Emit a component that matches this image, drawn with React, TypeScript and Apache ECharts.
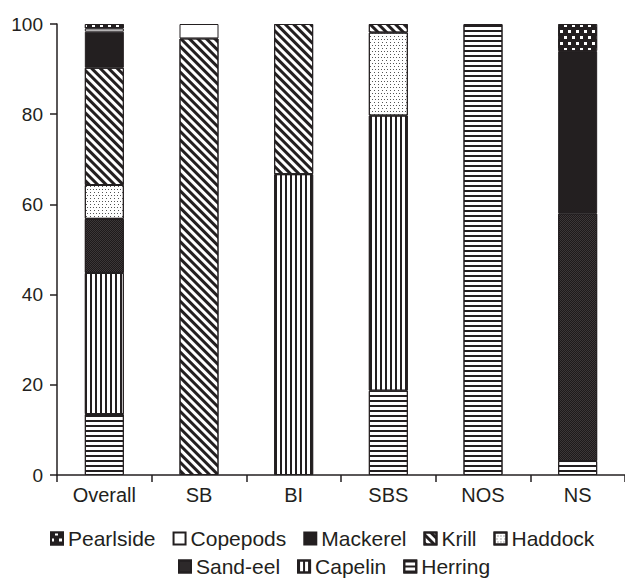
import React, { useEffect, useRef } from "react";
import * as echarts from "echarts";

// Diet composition (%) by region
const categories = ["Overall", "SB", "BI", "SBS", "NOS", "NS"];
const herring = [13.5, 0, 0, 18.7, 100, 3.1];
const capelin = [31.3, 0, 66.7, 61.0, 0, 0];
const sandEel = [12.0, 0, 0, 0, 0, 54.9];
const haddock = [7.5, 0, 0, 18.4, 0, 0];
const krill = [26.0, 96.8, 33.3, 1.9, 0, 0];
const mackerel = [8.0, 0, 0, 0, 0, 36.0];
const copepods = [0.7, 3.2, 0, 0, 0, 0];
const pearlside = [1.0, 0, 0, 0, 0, 6.0];

const yTicks = [0, 20, 40, 60, 80, 100];
const legendRow1 = ["Pearlside", "Copepods", "Mackerel", "Krill", "Haddock"];
const legendRow2 = ["Sand-eel", "Capelin", "Herring"];

const INK = "#231f20";
const FONT = "'Liberation Sans', Arial, Helvetica, sans-serif";

type Fill = { color: string; decal?: any };

const fills: Record<string, Fill> = {
  Herring: {
    color: "#ffffff",
    decal: { symbol: "rect", symbolSize: 1, symbolKeepAspect: false, color: INK, dashArrayX: [[1, 0]], dashArrayY: [1.1, 2.5] },
  },
  Capelin: {
    color: "#ffffff",
    decal: { symbol: "rect", symbolSize: 1, symbolKeepAspect: false, color: INK, dashArrayX: [1.1, 2.2], dashArrayY: [1, 0] },
  },
  "Sand-eel": {
    color: "#3c3738",
    decal: { symbol: "rect", symbolSize: 1, symbolKeepAspect: false, color: "#1e1a1b", dashArrayX: [[1, 1], [0, 1, 1, 0]], dashArrayY: [1, 0] },
  },
  Haddock: {
    color: "#ffffff",
    decal: { symbol: "rect", symbolSize: 1, symbolKeepAspect: false, color: "#555", dashArrayX: [[1, 2], [0, 1.5, 1, 0.5]], dashArrayY: [1, 1.2] },
  },
  Krill: {
    color: "#ffffff",
    decal: { symbol: "rect", symbolSize: 1, symbolKeepAspect: false, color: INK, dashArrayX: [[1, 0]], dashArrayY: [2.1, 2.1], rotation: Math.PI / 4 },
  },
  Mackerel: { color: INK },
  Copepods: { color: "#ffffff" },
  Pearlside: {
    color: INK,
    decal: { symbol: "rect", symbolSize: 1, symbolKeepAspect: false, color: "#ffffff", dashArrayX: [[2.6, 4.4], [0, 3.5, 2.6, 0.9]], dashArrayY: [2.6, 2.6] },
  },
};

const seriesDefs: [string, number[]][] = [
  ["Herring", herring],
  ["Capelin", capelin],
  ["Sand-eel", sandEel],
  ["Haddock", haddock],
  ["Krill", krill],
  ["Mackerel", mackerel],
  ["Copepods", copepods],
  ["Pearlside", pearlside],
];

export default function App() {
  const ref = useRef<HTMLDivElement>(null);

  useEffect(() => {
    if (!ref.current) return;
    const chart = echarts.init(ref.current, undefined, { renderer: "svg" });

    const series = seriesDefs.map(([name, values]) => ({
      name,
      type: "bar",
      stack: "diet",
      barWidth: 39,
      data: values.map((v) => (v === 0 ? "-" : v)),
      itemStyle: {
        color: fills[name].color,
        decal: fills[name].decal,
        borderColor: INK,
        borderWidth: 1,
      },
      emphasis: { disabled: true },
    }));

    const legendCommon = {
      orient: "horizontal",
      icon: "rect",
      itemWidth: 12,
      itemHeight: 12,
      itemGap: 17,
      padding: 0,
      selectedMode: false,
      textStyle: { fontFamily: FONT, fontSize: 21, color: INK },
    };

    chart.setOption({
      animation: false,
      backgroundColor: "#ffffff",
      grid: { left: 57, right: -8, top: 24, bottom: 104, containLabel: false },
      legend: [
        { ...legendCommon, data: legendRow1, left: 50, top: 528 },
        { ...legendCommon, data: legendRow2, left: 178, top: 556 },
      ],
      xAxis: {
        type: "category",
        data: categories,
        axisLine: { lineStyle: { color: INK, width: 1.5 } },
        axisTick: { show: true, length: 7, lineStyle: { color: INK, width: 1.5 } },
        axisLabel: { fontFamily: FONT, fontSize: 20, color: INK, margin: 10 },
      },
      yAxis: {
        type: "value",
        min: yTicks[0],
        max: yTicks[yTicks.length - 1],
        interval: yTicks[1] - yTicks[0],
        splitLine: { show: false },
        axisLine: { show: true, lineStyle: { color: INK, width: 1.5 } },
        axisTick: { show: true, length: 7, lineStyle: { color: INK, width: 1.5 } },
        axisLabel: { fontFamily: FONT, fontSize: 19, color: INK, margin: 14 },
      },
      series,
    });

    return () => chart.dispose();
  }, []);

  return (
    <div
      ref={ref}
      style={{ position: "absolute", left: 0, top: 0, width: 625, height: 579, background: "#fff" }}
    />
  );
}
